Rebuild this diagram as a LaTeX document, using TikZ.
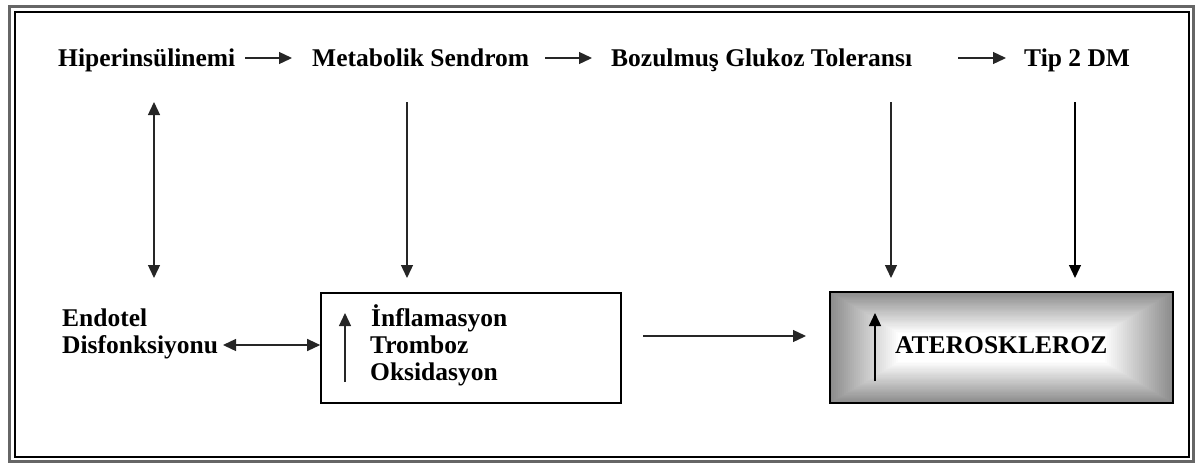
\documentclass[tikz,border=0pt]{standalone}
\usepackage{fontspec}
\setmainfont{Liberation Serif}
\usetikzlibrary{arrows.meta}
\begin{document}
\begin{tikzpicture}[x=1pt,y=-1pt,
  lbl/.style={font=\fontsize{25.5}{27}\selectfont\bfseries, inner sep=0pt, anchor=base west},
  arr/.style={draw=black!85, line width=1.3pt, -{Triangle[length=13pt,width=12pt]}},
  darr/.style={draw=black!85, line width=1.3pt, {Triangle[length=13pt,width=12pt]}-{Triangle[length=13pt,width=12pt]}},
  boxst/.style={draw=black, line width=1.6pt, inner sep=0pt}
]
\useasboundingbox (0,0) rectangle (1197,467);
% frame
\draw[black!60, line width=3.5pt] (9.5,6.5) rectangle (1193.5,461.5);
\draw[black, line width=2pt] (14.5,11.5) rectangle (1188.5,456.5);

% top row
\node[lbl] (hip) at (58,66) {Hiperinsülinemi};
\node[lbl] (met) at (312,66) {Metabolik Sendrom};
\node[lbl] (boz) at (611,66) {Bozulmuş Glukoz Toleransı};
\node[lbl] (tip) at (1024,66) {Tip 2 DM};

\coordinate (a1s) at (245,58);  \coordinate (a1e) at (292,58);
\coordinate (a2s) at (545,58);  \coordinate (a2e) at (592,58);
\coordinate (a3s) at (958,58);  \coordinate (a3e) at (1006,58);
\draw[arr] (a1s) -- (a1e);
\draw[arr] (a2s) -- (a2e);
\draw[arr] (a3s) -- (a3e);

% vertical connectors
\coordinate (v1s) at (154,102); \coordinate (v1e) at (154,278);
\coordinate (v2s) at (407,102); \coordinate (v2e) at (407,278);
\coordinate (v3s) at (891,102); \coordinate (v3e) at (891,278);
\coordinate (v4s) at (1075,102); \coordinate (v4e) at (1075,278);
\draw[darr] (v1s) -- (v1e);
\draw[arr] (v2s) -- (v2e);
\draw[arr] (v3s) -- (v3e);
\draw[arr, draw=black] (v4s) -- (v4e);

% bottom left
\node[lbl] (endo) at (62,326) {Endotel};
\node[lbl] (disf) at (62,353) {Disfonksiyonu};

% inflammation box
\node[boxst, minimum width=300pt, minimum height=110pt] (inf) at (471,348) {};
\node[lbl] (inf1) at (371,326) {İnflamasyon};
\node[lbl] (inf2) at (370,353) {Tromboz};
\node[lbl] (inf3) at (370,380) {Oksidasyon};
\coordinate (u1s) at (345,382); \coordinate (u1e) at (345,313);
\draw[arr] (u1s) -- (u1e);

\coordinate (e1) at (223,345);
\draw[darr] (e1) -- (inf.west |- e1);

% atherosclerosis box with gradient
\foreach \i in {0,...,45} {
  \pgfmathsetmacro\dx{\i*2}
  \pgfmathsetmacro\dy{\i*1.2}
  \pgfmathsetmacro\c{max(0,45*(1-\i/34))}
  \fill[black!\c] (830+\dx,292+\dy) rectangle (1173-\dx,403-\dy);
}
\node[boxst, minimum width=343pt, minimum height=111pt] (ath) at (1001.5,347.5) {};
\coordinate (u2s) at (875,381); \coordinate (u2e) at (875,313);
\draw[arr, draw=black] (u2s) -- (u2e);
\node[lbl] (athl) at (895,353) {ATEROSKLEROZ};

\coordinate (h1) at (643,336); \coordinate (h2) at (806,336);
\draw[arr] (h1) -- (h2);
\end{tikzpicture}
\end{document}
